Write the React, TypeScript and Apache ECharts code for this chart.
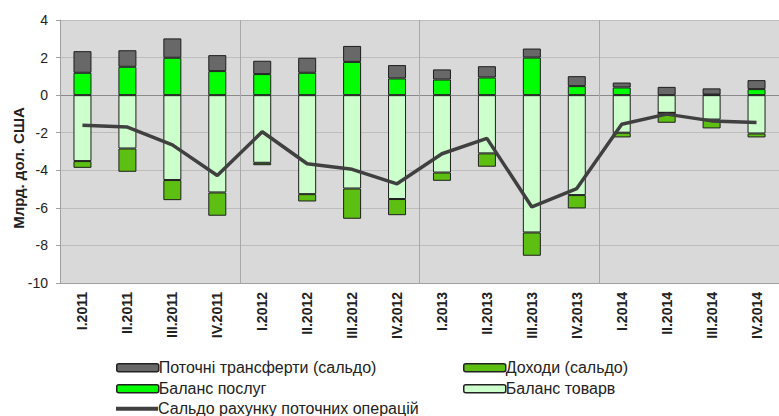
import React, { useEffect, useRef } from "react";
import * as echarts from "echarts";

const categories = [
  "I.2011", "II.2011", "III.2011", "IV.2011",
  "I.2012", "II.2012", "III.2012", "IV.2012",
  "I.2013", "II.2013", "III.2013", "IV.2013",
  "I.2014", "II.2014", "III.2014", "IV.2014",
];
const transfers = [1.15, 0.88, 1.03, 0.85, 0.71, 0.8, 0.85, 0.71, 0.54, 0.6, 0.48, 0.53, 0.26, 0.44, 0.33, 0.48];
const services = [1.19, 1.51, 1.99, 1.28, 1.12, 1.19, 1.77, 0.89, 0.83, 0.94, 2.0, 0.48, 0.41, 0, 0.03, 0.32];
const goods = [-3.51, -2.84, -4.52, -5.18, -3.6, -5.27, -4.97, -5.53, -4.12, -3.1, -7.31, -5.32, -2.0, -0.94, -1.3, -2.04];
const income = [-0.36, -1.24, -1.07, -1.24, -0.13, -0.39, -1.61, -0.86, -0.44, -0.71, -1.24, -0.71, -0.25, -0.53, -0.47, -0.21];
const currentAccount = [-1.6, -1.7, -2.65, -4.28, -1.95, -3.65, -3.95, -4.72, -3.12, -2.3, -5.95, -4.97, -1.55, -1.01, -1.37, -1.45];
const yTicks = { min: -10, max: 4, interval: 2 };

const names = {
  transfers: "Поточні трансферти (сальдо)",
  income: "Доходи (сальдо)",
  services: "Баланс послуг",
  goods: "Баланс товарв",
  line: "Сальдо рахунку поточних операцій",
};

const FONT = "Arial, 'Liberation Sans', sans-serif";

export default function App() {
  const ref = useRef<HTMLDivElement>(null);
  useEffect(() => {
    if (!ref.current) return;
    const chart = echarts.init(ref.current, undefined, { renderer: "svg" });
    const barCommon = {
      type: "bar" as const,
      stack: "total",
      barWidth: 18,
      itemStyle: { borderColor: "#1e1e1e", borderWidth: 1 },
    };
    const legendCommon = {
      orient: "vertical" as const,
      itemWidth: 42,
      itemHeight: 8,
      itemGap: 2.5,
      textStyle: { fontFamily: FONT, fontSize: 16, color: "#222", lineHeight: 18.5, padding: [0, 0, 0, -5] },
      padding: 0,
    };
    chart.setOption({
      animation: false,
      backgroundColor: "#ffffff",
      textStyle: { fontFamily: FONT },
      grid: {
        left: 60,
        right: -9,
        top: 20,
        bottom: 133,
        show: true,
        backgroundColor: "#d9d9d9",
        borderWidth: 0,
      },
      legend: [
        {
          ...legendCommon,
          icon: "roundRect",
          itemStyle: { borderColor: "#222", borderWidth: 1.5 },
          left: 116,
          top: 358.5,
          data: [{ name: names.transfers }, { name: names.services }],
        },
        {
          ...legendCommon,
          icon: "roundRect",
          itemStyle: { borderColor: "#222", borderWidth: 1.5 },
          left: 463,
          top: 358.5,
          data: [{ name: names.income }, { name: names.goods }],
        },
        {
          ...legendCommon,
          left: 116,
          top: 399.5,
          itemHeight: 4,
          icon: "path://M0,0 L42,0 L42,4 L0,4 Z",
          itemStyle: { color: "#404040", borderWidth: 0 },
          lineStyle: { width: 0 },
          data: [{ name: names.line }],
        },
      ],
      graphic: [
        {
          type: "text",
          x: 18,
          y: 168,
          rotation: Math.PI / 2,
          style: {
            text: "Млрд. дол. США",
            fontFamily: FONT,
            fontSize: 15,
            fontWeight: "bold",
            fill: "#222",
            align: "center",
            verticalAlign: "middle",
          },
        },
      ],
      xAxis: {
        type: "category",
        data: categories,
        axisLine: { onZero: false, lineStyle: { color: "#a0a0a0" } },
        axisTick: { show: false },
        axisLabel: {
          rotate: 90,
          margin: 9,
          fontSize: 14,
          fontWeight: "bold",
          color: "#222",
          fontFamily: FONT,
        },
        splitLine: {
          show: true,
          interval: (idx: number) => idx % 4 === 0,
          lineStyle: { color: "#a8a8a8", width: 1 },
        },
      },
      yAxis: {
        type: "value",
        min: yTicks.min,
        max: yTicks.max,
        interval: yTicks.interval,
        axisLine: { show: true, lineStyle: { color: "#a0a0a0" } },
        axisTick: { show: true, length: 4, lineStyle: { color: "#a0a0a0" } },
        axisLabel: { fontSize: 14, color: "#222", margin: 12, fontFamily: FONT },
        splitLine: {
          show: true,
          lineStyle: {
            color: ["#bdbdbd", "#bdbdbd", "#bdbdbd", "#bdbdbd", "#bdbdbd", "#8a8a8a", "#bdbdbd", "#bdbdbd"],
            width: 1,
          },
        },
      },
      series: [
        { ...barCommon, name: names.goods, data: goods, itemStyle: { ...barCommon.itemStyle, color: "#ccffcc" } },
        { ...barCommon, name: names.services, data: services, itemStyle: { ...barCommon.itemStyle, color: "#00ff00" } },
        { ...barCommon, name: names.income, data: income, itemStyle: { ...barCommon.itemStyle, color: "#5cbf12" } },
        { ...barCommon, name: names.transfers, data: transfers, itemStyle: { ...barCommon.itemStyle, color: "#686868" } },
        {
          type: "line",
          name: names.line,
          data: currentAccount,
          symbol: "none",
          lineStyle: { color: "#404040", width: 3.5 },
          itemStyle: { color: "#404040" },
          z: 5,
        },
      ],
    });
    return () => chart.dispose();
  }, []);
  return (
    <div
      ref={ref}
      style={{ position: "fixed", left: 0, top: 0, width: 779, height: 416 }}
    />
  );
}
